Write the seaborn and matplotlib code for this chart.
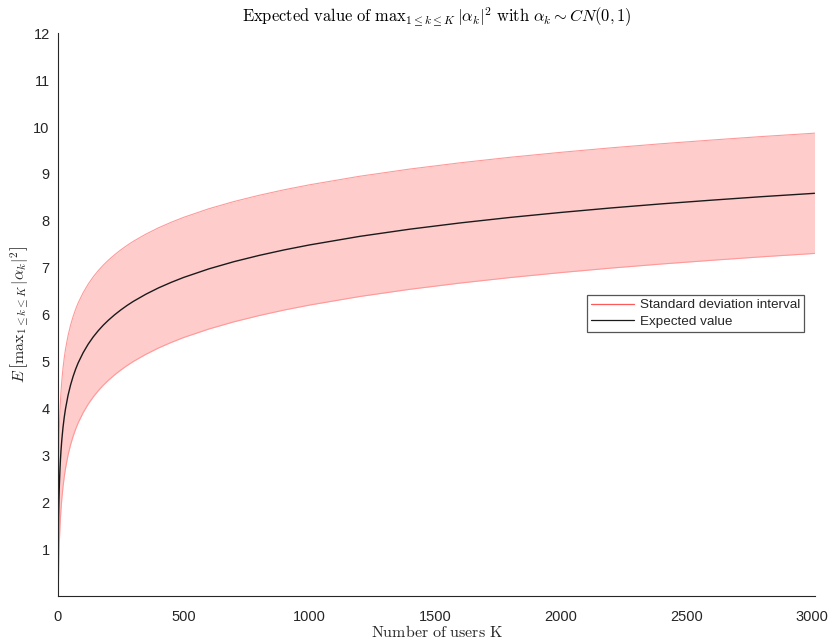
import numpy as np
import pandas as pd
import seaborn as sns
import matplotlib
matplotlib.use("Agg")
import matplotlib.pyplot as plt
from matplotlib.lines import Line2D

# Number of users K at which the curves are sampled
users_k = [1, 2, 3, 4, 5, 6, 8, 10, 12, 15, 20, 25, 30, 40, 50, 60, 70, 80,
           100, 120, 140, 160, 180, 200, 225, 250, 275, 300, 350, 400, 450,
           500, 600, 700, 800, 900, 1000, 1200, 1400, 1600, 1800, 2000, 2200,
           2400, 2600, 2800, 3000, 3010]
# Expected value of the maximum channel gain
expected_max = [1.000, 1.500, 1.833, 2.083, 2.283, 2.450, 2.718, 2.929, 3.103,
                3.318, 3.598, 3.816, 3.995, 4.279, 4.499, 4.680, 4.834, 4.968,
                5.187, 5.369, 5.523, 5.656, 5.774, 5.878, 5.995, 6.100, 6.196,
                6.283, 6.436, 6.570, 6.687, 6.793, 6.975, 7.129, 7.262, 7.380,
                7.485, 7.668, 7.822, 7.955, 8.073, 8.178, 8.274, 8.361, 8.440,
                8.515, 8.583, 8.587]
# Standard deviation of the maximum channel gain
std_max = [1.000, 1.118, 1.167, 1.190, 1.210, 1.222, 1.236, 1.243, 1.251,
           1.257, 1.263, 1.267, 1.270, 1.273, 1.275, 1.276, 1.277, 1.278,
           1.279, 1.279, 1.280, 1.280, 1.280, 1.280, 1.280, 1.281, 1.281,
           1.281, 1.281, 1.281, 1.281, 1.281, 1.282, 1.282, 1.282, 1.282,
           1.282, 1.282, 1.282, 1.282, 1.282, 1.282, 1.282, 1.282, 1.282,
           1.282, 1.282, 1.282]

y_ticks = list(range(1, 13))
x_ticks = [0, 500, 1000, 1500, 2000, 2500, 3000]

df = pd.DataFrame({"K": users_k, "mean": expected_max, "std": std_max})
df["lower"] = df["mean"] - df["std"]
df["upper"] = df["mean"] + df["std"]

sns.set_style("white")
plt.rcParams["font.family"] = ["Liberation Sans", "DejaVu Sans"]
plt.rcParams["mathtext.fontset"] = "cm"

fig = plt.figure(figsize=(8.32, 6.39), dpi=100)
ax = fig.add_axes([0.0697, 0.0673, 0.9099, 0.8807])

band_fill = (1.0, 0.8, 0.8)
band_edge = (1.0, 0.6, 0.6)
axis_col = "#262626"

ax.fill_between(df["K"], df["lower"], df["upper"], color=band_fill, lw=0)
sns.lineplot(data=df, x="K", y="upper", ax=ax, color=band_edge, lw=0.8)
sns.lineplot(data=df, x="K", y="lower", ax=ax, color=band_edge, lw=0.8)
sns.lineplot(data=df, x="K", y="mean", ax=ax, color="#1a1a1a", lw=1.0)

ax.set_xlim(0, 3012)
ax.set_ylim(0, 12)
ax.set_xticks(x_ticks)
ax.set_yticks(y_ticks)
ax.tick_params(direction="in", length=5, width=0.8, colors=axis_col,
               labelsize=10.5)
ax.tick_params(axis="x", pad=10)
ax.tick_params(axis="y", pad=6)
for side in ("top", "right"):
    ax.spines[side].set_visible(False)
for side in ("left", "bottom"):
    ax.spines[side].set_color(axis_col)
    ax.spines[side].set_linewidth(0.8)

ax.set_title(r"$\mathrm{Expected\ value\ of\ }\mathrm{max}_{1\leq k\leq K}\,|\alpha_k|^2"
             r"\mathrm{\ with\ }\alpha_k\sim CN(0,1)$",
             fontsize=11.9, color="black", pad=8)
ax.set_xlabel(r"$\mathrm{Number\ of\ users\ K}$", fontsize=11.5, color="#262626")
ax.xaxis.set_label_coords(0.5, -0.049)
ax.set_ylabel(r"$E\,\left[\mathrm{max}_{1\leq k\leq K}\,|\alpha_k|^2\right]$",
              fontsize=11.5, color="#262626", labelpad=2)

handles = [Line2D([], [], color=(1.0, 0.35, 0.35), lw=0.9),
           Line2D([], [], color="#1a1a1a", lw=0.9)]
leg = ax.legend(handles, ["Standard deviation interval", "Expected value"],
                loc="upper left", bbox_to_anchor=(0.699, 0.535),
                fontsize=9.7, frameon=True, fancybox=False, framealpha=1,
                edgecolor="#555555", borderpad=0.3, handlelength=3.2,
                handletextpad=0.4, labelspacing=0.3, borderaxespad=0)
leg.get_frame().set_linewidth(0.9)

fig.savefig("out.png", dpi=100)
